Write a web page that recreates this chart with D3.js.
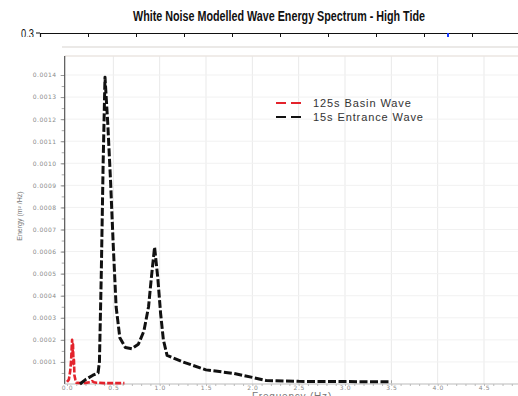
<!DOCTYPE html>
<html>
<head>
<meta charset="utf-8">
<script src="https://cdn.jsdelivr.net/npm/d3@7"></script>
<style>
  body { margin: 0; background: #fff; }
  svg { display: block; }
</style>
</head>
<body>
<div id="chart"></div>
<script>
// outer frame (only its top edge is visible)
const outerTicks = [1, 2, 3, 4, 5, 6, 7, 8, 9];
const outerMarker = [8.5];
const outerTopLabel = "0.3";

// inset spectrum
const xTicks = [0, 0.5, 1, 1.5, 2, 2.5, 3, 3.5, 4, 4.5];
const yTicks = [0.0001, 0.0002, 0.0003, 0.0004, 0.0005, 0.0006, 0.0007,
                0.0008, 0.0009, 0.0010, 0.0011, 0.0012, 0.0013, 0.0014];

const basinFreq = [0, 0.02, 0.035, 0.045, 0.05, 0.055, 0.06, 0.065, 0.07, 0.075, 0.08, 0.09,
                   0.1, 0.15, 0.2, 0.25, 0.27, 0.29, 0.32, 0.4, 0.5, 0.62];
const basinEnergy = [0.00001, 0.00002, 0.00006, 0.00011, 0.00016, 0.00020, 0.00014, 0.00018,
                     0.00009, 0.00011, 0.00004, 0.00002, 0.000006, 0.000004, 0.000005,
                     0.000008, 0.000013, 0.000008, 0.000006, 0.000004, 0.000004, 0.000004];

const entranceFreq = [0.14, 0.2, 0.28, 0.335, 0.35, 0.37, 0.39, 0.41, 0.44, 0.47, 0.5, 0.53,
                      0.57, 0.63, 0.7, 0.77, 0.83, 0.88, 0.91, 0.945, 0.98, 1.01, 1.04, 1.08,
                      1.25, 1.5, 1.8, 2.0, 2.15, 2.5, 3.0, 3.5];
const entranceEnergy = [0, 0.00002, 0.00004, 0.00005, 0.0001, 0.0005, 0.0010, 0.00139, 0.00118,
                        0.00092, 0.00062, 0.00035, 0.00021, 0.000165, 0.00016, 0.00018, 0.00024,
                        0.00035, 0.00048, 0.00062, 0.00048, 0.00032, 0.0002, 0.00013, 0.0001,
                        0.000064, 0.000048, 0.00003, 0.000016, 0.000012, 0.000011, 0.00001];

const series = [
  { name: "125s Basin Wave", freq: basinFreq, energy: basinEnergy, color: "#e3232c", width: 2.6, dash: "6,2" },
  { name: "15s Entrance Wave", freq: entranceFreq, energy: entranceEnergy, color: "#111", width: 3, dash: "8,2.5" }
];

const W = 518, H = 396;
const svg = d3.select("#chart").append("svg").attr("width", W).attr("height", H);

// title
svg.append("text")
  .attr("x", 279).attr("y", 21)
  .attr("text-anchor", "middle")
  .attr("textLength", 292).attr("lengthAdjust", "spacingAndGlyphs")
  .style("font-family", "'Liberation Sans Narrow', 'Arial Narrow', 'Liberation Sans', sans-serif")
  .style("font-size", "14px").style("font-weight", "bold").style("fill", "#111")
  .text("White Noise Modelled Wave Energy Spectrum - High Tide");

// outer frame top edge
const ox = d3.scaleLinear().domain([0, 10]).range([40, 520]);
const outerAxis = d3.axisBottom(ox).tickValues(outerTicks).tickSize(4).tickFormat("");
svg.append("g").attr("transform", "translate(0,33)").call(outerAxis)
  .call(g => g.select(".domain").attr("stroke", "#111").attr("stroke-width", 1.2))
  .call(g => g.selectAll(".tick line").attr("stroke", "#111"));
svg.selectAll(".omark").data(outerMarker).join("line")
  .attr("x1", d => ox(d)).attr("x2", d => ox(d))
  .attr("y1", 33).attr("y2", 37)
  .attr("stroke", "#1a3cff").attr("stroke-width", 2);
svg.append("line").attr("x1", 36).attr("x2", 40).attr("y1", 33).attr("y2", 33).attr("stroke", "#111");
svg.append("text").attr("x", 21).attr("y", 38)
  .attr("textLength", 13).attr("lengthAdjust", "spacingAndGlyphs")
  .style("font-family", "'Liberation Sans Narrow', 'Liberation Sans', sans-serif")
  .style("font-size", "12px").style("fill", "#111")
  .text(outerTopLabel);

// inset image edge
svg.append("rect").attr("x", 0).attr("y", 37).attr("width", W).attr("height", H - 37).attr("fill", "#fff");
svg.append("line").attr("x1", 62).attr("x2", W).attr("y1", 47).attr("y2", 47)
  .attr("stroke", "#d8d4d0").attr("stroke-width", 1.2);

// inset chart
const x = d3.scaleLinear().domain([0, 4.5]).range([67, 484]);
const y = d3.scaleLinear().domain([0, 0.0014]).range([384, 75]);
const plotLeft = x(-0.025), plotTop = 56, plotBottom = y(0);

const grid = svg.append("g");
grid.selectAll(".vg").data(xTicks.slice(1)).join("line")
  .attr("x1", d => x(d)).attr("x2", d => x(d)).attr("y1", plotTop).attr("y2", plotBottom)
  .attr("stroke", "#e9e9e9").attr("stroke-width", 1);
grid.selectAll(".hg").data(yTicks).join("line")
  .attr("x1", plotLeft).attr("x2", W).attr("y1", d => y(d)).attr("y2", d => y(d))
  .attr("stroke", "#f1f1f1").attr("stroke-width", 1);
svg.append("line").attr("x1", plotLeft).attr("x2", W).attr("y1", plotTop).attr("y2", plotTop)
  .attr("stroke", "#ebe6e2").attr("stroke-width", 1.5);

const labelFont = "'DejaVu Sans', sans-serif";

// y axis
const yMinor = d3.range(1, 29).map(i => i * 0.00005);
svg.append("g").attr("transform", `translate(${plotLeft},0)`)
  .call(d3.axisLeft(y).tickValues(yMinor).tickSize(3).tickFormat(""))
  .call(g => g.select(".domain").remove())
  .call(g => g.selectAll(".tick line").attr("stroke", "#aaa"));
svg.append("g").attr("transform", `translate(${plotLeft},0)`)
  .call(d3.axisLeft(y).tickValues(yTicks).tickSize(4).tickPadding(4).tickFormat(d3.format(".4f")))
  .call(g => g.select(".domain").remove())
  .call(g => g.selectAll(".tick line").attr("stroke", "#999"))
  .call(g => g.selectAll("text").style("font-family", labelFont).style("font-size", "6px")
    .style("letter-spacing", "0.5px").style("fill", "#8a8a8a"));
svg.append("line").attr("x1", plotLeft).attr("x2", plotLeft).attr("y1", plotTop).attr("y2", plotBottom)
  .attr("stroke", "#555").attr("stroke-width", 1.2);

// x axis
const xMinor = d3.range(0, 49).map(i => i * 0.1);
svg.append("g").attr("transform", `translate(0,${plotBottom})`)
  .call(d3.axisBottom(x).tickValues(xMinor).tickSize(2).tickFormat(""))
  .call(g => g.select(".domain").attr("stroke", "#bbb").attr("d", `M${plotLeft},0H${W}`))
  .call(g => g.selectAll(".tick line").attr("stroke", "#bbb"));
svg.append("g").attr("transform", `translate(0,${plotBottom})`)
  .call(d3.axisBottom(x).tickValues(xTicks).tickSize(0).tickPadding(1.5).tickFormat(d3.format(".1f")))
  .call(g => g.select(".domain").remove())
  .call(g => g.selectAll("text").style("font-family", labelFont).style("font-size", "6px")
    .style("letter-spacing", "0.6px").style("fill", "#8a8a8a"));

// axis titles
svg.append("text")
  .attr("transform", "translate(22,216) rotate(-90)")
  .attr("text-anchor", "middle")
  .style("font-family", "'Liberation Sans Narrow', 'Liberation Sans', sans-serif")
  .style("font-size", "7px").style("fill", "#777")
  .text("Energy (m² /Hz)");
svg.append("text")
  .attr("x", 292).attr("y", 400).attr("text-anchor", "middle")
  .style("font-family", "'Liberation Sans', sans-serif")
  .style("font-size", "10px").style("letter-spacing", "0.8px").style("fill", "#777")
  .text("Frequency (Hz)");

// lines
const line = d3.line().x(d => x(d[0])).y(d => y(d[1]));
series.forEach(s => {
  const pts = s.freq.map((f, i) => [f, s.energy[i]]);
  svg.append("path").datum(pts)
    .attr("d", line)
    .attr("fill", "none")
    .attr("stroke", s.color)
    .attr("stroke-width", s.width)
    .attr("stroke-dasharray", s.dash)
    .attr("stroke-linejoin", "round");
});

// legend
const legend = svg.append("g").attr("transform", "translate(276,103)");
series.forEach((s, i) => {
  const row = legend.append("g").attr("transform", `translate(0,${i * 14})`);
  row.append("line").attr("x1", 0).attr("x2", 26).attr("y1", 0).attr("y2", 0)
    .attr("stroke", s.color).attr("stroke-width", 2).attr("stroke-dasharray", "10,5");
  row.append("text").attr("x", 37).attr("y", 4)
    .style("font-family", "'Liberation Sans', sans-serif")
    .style("font-size", "11px").style("letter-spacing", "0.9px").style("fill", "#333")
    .text(s.name);
});
</script>
</body>
</html>
